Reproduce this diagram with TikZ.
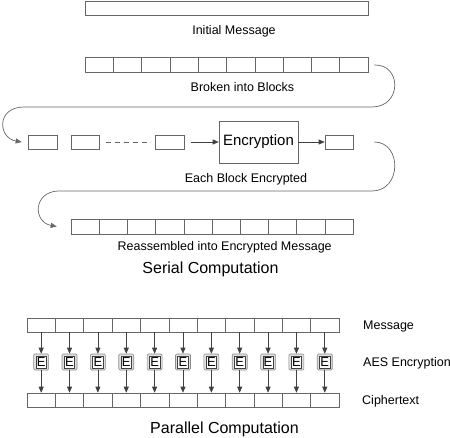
\documentclass[tikz,border=0pt]{standalone}
\usepackage{fontspec}
\setmainfont{Liberation Sans}
\usetikzlibrary{arrows.meta,calc}
\begin{document}
\begin{tikzpicture}[x=1pt,y=-1pt,
  blk/.style={draw=black!60, line width=0.6pt, inner sep=0pt, minimum height=14pt},
  lbl/.style={font=\fontsize{12.5}{14}\selectfont, anchor=base, inner sep=0pt},
  lblw/.style={lbl, anchor=base west},
  big/.style={font=\fontsize{16}{18}\selectfont, anchor=base, inner sep=0pt},
  arr/.style={draw=black!75, line width=0.6pt, -{Triangle[length=6pt,width=5pt]}},
  con/.style={draw=black!60, line width=0.7pt, -{Triangle[length=6pt,width=5pt]}},
  ebox/.style={draw=black!45, fill=black!12, rounded corners=1.2pt, line width=0.6pt,
    minimum width=15pt, minimum height=16pt, inner sep=0pt},
  einner/.style={draw=black!75, fill=white, line width=0.6pt, inner sep=0pt,
    minimum width=10.5pt, minimum height=12pt, font=\fontsize{13}{14}\selectfont}]
\useasboundingbox (0,0) rectangle (450,437);

% Initial message
\node[blk, minimum width=283pt] (msg) at (226.5,8) {};
\node[lbl] (tmsg) at (234,34) {Initial Message};

% Broken into blocks
\foreach \i in {0,...,9}
  \node[blk, minimum width=28.3pt, minimum height=15pt] (b\i) at ({85+28.3*(\i+0.5)},64.5) {};
\node[lbl] (tblk) at (242.5,91) {Broken into Blocks};

% Serial row
\node[blk, minimum width=29pt] (s1) at (42.5,142) {};
\node[blk, minimum width=28pt] (s2) at (85,142) {};
\node[blk, minimum width=29pt] (s3) at (169.5,142) {};
\node[draw=black!60, line width=0.6pt, minimum width=79pt, minimum height=42pt, inner sep=0pt,
  font=\fontsize{15}{17}\selectfont] (enc) at (258.5,142) {Encryption};
\node[blk, minimum width=28pt] (s4) at (339,142) {};
\draw[draw=black!60, line width=0.6pt, dash pattern=on 5pt off 4pt]
  ($(s2.east)+(7,0)$) -- ($(s3.west)+(-8,0)$);
\draw[arr, shorten <=7pt] (s3.east) -- (enc.west);
\draw[arr] (enc.east) -- (s4.west);
\node[lbl] (tenc) at (246,182) {Each Block Encrypted};

% Connector 1
\coordinate (c1a) at ($(b9.east)+(6,0.5)$);
\coordinate (c1b) at ($(s1.west)+(-6,0)$);
\draw[con] (c1a) .. controls (402,64) and (402,107) .. (372,107) -- (24,107)
  .. controls (-4,107) and (-2,138) .. (c1b);

% Reassembled
\foreach \i in {0,...,9}
  \node[blk, minimum width=28.2pt, minimum height=15pt] (r\i) at ({71+28.2*(\i+0.5)},226.5) {};
\node[lbl] (trea) at (224.7,250.5) {Reassembled into Encrypted Message};
\node[big] (tser) at (210.5,273) {Serial Computation};

% Connector 2
\coordinate (c2a) at ($(s4.east)+(21,0)$);
\coordinate (c2b) at ($(r0.west)+(-14,0)$);
\draw[con] (c2a) .. controls (402,142) and (402,191) .. (372,191) -- (58,191)
  .. controls (33,192) and (33,222) .. (c2b);

% Parallel
\foreach \i in {0,...,10} {
  \node[blk, minimum width=28.36pt] (m\i) at ({27+28.36*(\i+0.5)},325) {};
  \node[ebox] (e\i) at ({27+28.36*(\i+0.5)},362) {};
  \node[einner] (ei\i) at (e\i.center) {E};
  \node[blk, minimum width=28.36pt] (k\i) at ({27+28.36*(\i+0.5)},400) {};
  \draw[arr] (m\i.south) -- (e\i.north);
  \draw[arr] (e\i.south) -- (k\i.north);
}
\node[lblw] (tm) at (363,329.5) {Message};
\node[lblw] (ta) at (363,366) {AES Encryption};
\node[lblw] (tc) at (362,404.5) {Ciphertext};
\node[big] (tpar) at (224.5,433) {Parallel Computation};
\end{tikzpicture}
\end{document}
